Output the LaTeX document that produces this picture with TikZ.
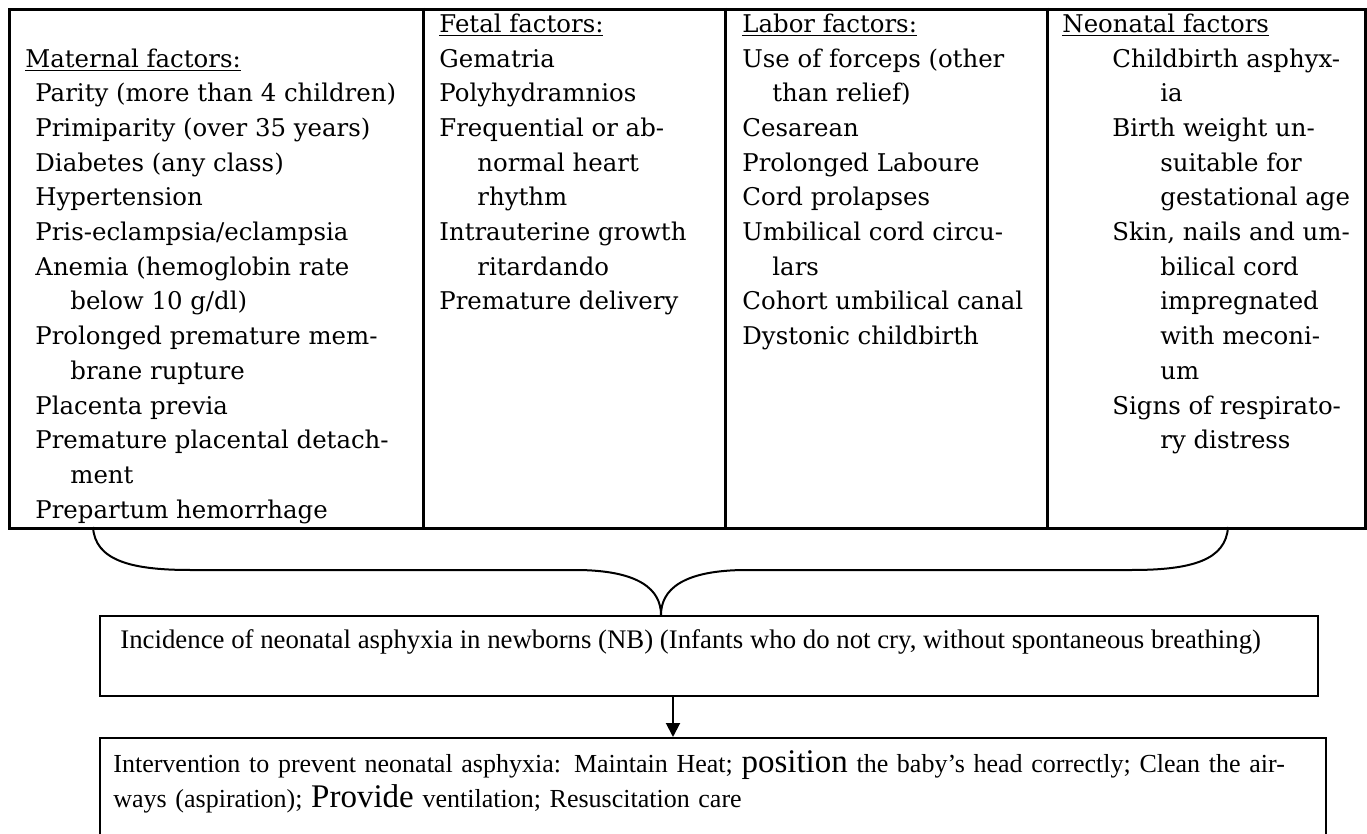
\documentclass[tikz,border=0pt]{standalone}
\usepackage{fontspec}
\setmainfont{Liberation Serif}
\newfontfamily\cambriafont{DejaVu Serif}
\usetikzlibrary{arrows.meta}
\newcommand{\factorfont}{\fontsize{12.2}{17.35}\cambriafont}
\newcommand{\boxfont}{\fontsize{13.4}{17.5}\selectfont}
\newcommand{\stepfont}{\fontsize{13}{17.5}\selectfont}
\newcommand{\bigword}[1]{{\fontsize{16.5}{17.5}\selectfont #1}}
\newcommand{\ind}[1]{\hspace*{#1}}
\tikzset{
  tableline/.style = {line width=1.5pt},
  boxline/.style   = {draw,line width=1pt,inner sep=0pt,anchor=north west},
  coltext/.style   = {anchor=north west,inner sep=0pt,align=left,font=\factorfont},
  boxtext/.style   = {inner sep=0pt,font=\boxfont},
  braceline/.style = {line width=1pt},
  flowarr/.style   = {-{Triangle[length=7pt,width=7pt]},line width=1pt}
}

\begin{document}
\begin{tikzpicture}[x=0.5pt,y=-0.5pt]
  \useasboundingbox (0,0) rectangle (1367,834);
  \clip (0,0) rectangle (1367,834);
  % table of risk factors
  \node[boxline,line width=1.5pt,minimum width=678pt,minimum height=259.5pt] (tbl) at (8,8) {};
  \foreach \x in {423,725,1047}
    \draw[tableline] (\x,8) -- (\x,527);
  \node[coltext] (maternal) at (25,7.7) {\strut\\
    \underline{Maternal factors:}\\
    \ind{5pt}Parity (more than 4 children)\\
    \ind{5pt}Primiparity (over 35 years)\\
    \ind{5pt}Diabetes (any class)\\
    \ind{5pt}Hypertension\\
    \ind{5pt}Pris-eclampsia/eclampsia\\
    \ind{5pt}Anemia (hemoglobin rate\\
    \ind{22.5pt}below 10 g/dl)\\
    \ind{5pt}Prolonged premature mem-\\
    \ind{22.5pt}brane rupture\\
    \ind{5pt}Placenta previa\\
    \ind{5pt}Premature placental detach-\\
    \ind{22.5pt}ment\\
    \ind{5pt}Prepartum hemorrhage};
  \node[coltext] (fetal) at (439,7.7) {\strut\underline{Fetal factors:}\\
    Gematria\\
    Polyhydramnios\\
    Frequential or ab-\\
    \ind{19pt}normal heart\\
    \ind{19pt}rhythm\\
    Intrauterine growth\\
    \ind{19pt}ritardando\\
    Premature delivery};
  \node[coltext] (labor) at (742,7.7) {\strut\underline{Labor factors:}\\
    Use of forceps (other\\
    \ind{15pt}than relief)\\
    Cesarean\\
    Prolonged Laboure\\
    Cord prolapses\\
    Umbilical cord circu-\\
    \ind{15pt}lars\\
    Cohort umbilical canal\\
    Dystonic childbirth};
  \node[coltext] (neonatal) at (1062,7.7) {\strut\underline{Neonatal factors}\\
    \ind{25pt}Childbirth asphyx-\\
    \ind{49pt}ia\\
    \ind{25pt}Birth weight un-\\
    \ind{49pt}suitable for\\
    \ind{49pt}gestational age\\
    \ind{25pt}Skin, nails and um-\\
    \ind{49pt}bilical cord\\
    \ind{49pt}impregnated\\
    \ind{49pt}with meconi-\\
    \ind{49pt}um\\
    \ind{25pt}Signs of respirato-\\
    \ind{49pt}ry distress};
  % brace gathering the four columns
  \coordinate (bracetip) at (661,615);
  \draw[braceline] (93,527) .. controls (95,560) and (130,570) .. (190,570)
    -- (575,570) .. controls (640,570) and (661,590) .. (bracetip)
    .. controls (661,590) and (682,570) .. (747,570)
    -- (1132,570) .. controls (1192,570) and (1226,560) .. (1228,527);
  % outcome and intervention boxes
  \node[boxline,minimum width=609pt,minimum height=40pt] (incid) at (99,615) {};
  \node[boxtext,anchor=base west] (incidtxt) at (120,648)
    {Incidence of neonatal asphyxia in newborns (NB) (Infants who do not cry, without spontaneous breathing)};
  \node[boxline,minimum width=613pt,minimum height=60pt] (interv) at (99,737) {};
  \node[boxtext,font=\stepfont,anchor=north west,text width=595.5pt,align=left] (intervtxt) at (113,747.5)
    {\strut\makebox[595.5pt][s]{Intervention to prevent neonatal asphyxia: Maintain Heat; \bigword{position} the baby's head correctly; Clean the air-}\\
     ways (aspiration); \bigword{Provide} ventilation; Resuscitation care};
  \coordinate (arrx) at (673,0);
  \draw[flowarr] (incid.south -| arrx) -- (interv.north -| arrx);
\end{tikzpicture}
\end{document}
